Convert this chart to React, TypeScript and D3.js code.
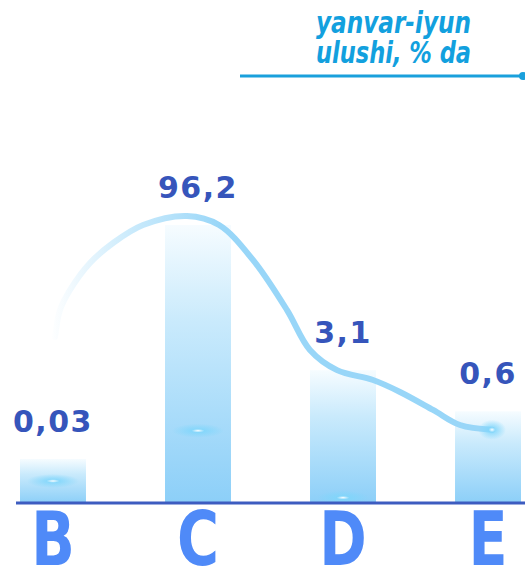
import React from "react";
import * as d3 from "d3";

const categories = ["B", "C", "D", "E"];
const values = [0.03, 96.2, 3.1, 0.6];
const valueLabels = ["0,03", "96,2", "3,1", "0,6"];
// trend curve: position in category steps from the first bar, and value (same units as bars)
const trendPos = [0.014, 0.048, 0.117, 0.255, 0.414, 0.621, 0.924, 1.145, 1.379, 1.614, 1.772, 1.959, 2.207, 2.393, 2.621, 2.807, 3.028];
const trendValues = [8.6, 17.2, 27.3, 47.9, 70, 96.2, 112, 96.2, 51, 17.2, 5.9, 3.1, 2.19, 1.39, 0.64, 0.3, 0.23];
const legendLines = ["yanvar-iyun", "ulushi, % da"];

const W = 525;
const H = 574;
const baseY = 503;

export default function App() {
  const x = d3.scaleBand<string>().domain(categories).range([20, 521]).paddingInner(0.545).paddingOuter(0);
  const y = d3.scalePow().exponent(0.2).domain([0.03, 96.2]).range([459, 225]);
  const bw = x.bandwidth();
  const step = x.step();
  const x0 = (x(categories[0]) as number) + bw / 2;

  const line = d3
    .line<number>()
    .x((_, i) => x0 + trendPos[i] * step)
    .y((d) => y(d))
    .curve(d3.curveCatmullRom.alpha(0.5));

  const glows = [
    { i: 0, dy: 0.5 },
    { i: 1, dy: 0.74 },
    { i: 2, dy: 0.96 },
  ];

  const lastI = trendPos.length - 1;

  return (
    <svg width={W} height={H} style={{ position: "absolute", left: 0, top: 0 }}>
      <defs>
        <linearGradient id="barGrad" x1="0" y1="0" x2="0" y2="1">
          <stop offset="0" stopColor="#f6fcff" />
          <stop offset="0.35" stopColor="#c9eafc" />
          <stop offset="1" stopColor="#8ccff8" />
        </linearGradient>
        <radialGradient id="glow">
          <stop offset="0" stopColor="#ffffff" stopOpacity="1" />
          <stop offset="0.25" stopColor="#7fd6fb" stopOpacity="0.8" />
          <stop offset="1" stopColor="#7fd6fb" stopOpacity="0" />
        </radialGradient>
        <linearGradient id="curveGrad" gradientUnits="userSpaceOnUse" x1="50" y1="0" x2="220" y2="0">
          <stop offset="0" stopColor="#b0e0fa" stopOpacity="0" />
          <stop offset="0.5" stopColor="#b0e0fa" stopOpacity="0.7" />
          <stop offset="1" stopColor="#98d6f8" stopOpacity="1" />
        </linearGradient>
      </defs>

      {categories.map((c, i) => {
        const bx = x(c) as number;
        const top = y(values[i]);
        return <rect key={c} x={bx} y={top} width={bw} height={baseY - top} fill="url(#barGrad)" />;
      })}

      {glows.map((g) => {
        const c = categories[g.i];
        const top = y(values[g.i]);
        const cy = top + (baseY - top) * g.dy;
        return (
          <ellipse key={c} cx={(x(c) as number) + bw / 2} cy={cy} rx={26} ry={7} fill="url(#glow)" />
        );
      })}

      <path d={line(trendValues) || ""} fill="none" stroke="url(#curveGrad)" strokeWidth={6} strokeLinecap="round" />
      <ellipse
        cx={x0 + trendPos[lastI] * step}
        cy={y(trendValues[lastI])}
        rx={14}
        ry={10}
        fill="url(#glow)"
      />

      <line x1={16} x2={525} y1={baseY} y2={baseY} stroke="#3d5cc0" strokeWidth={3} />

      {categories.map((c, i) => (
        <text
          key={"v" + c}
          x={(x(c) as number) + bw / 2}
          y={y(values[i]) - 27}
          textAnchor="middle"
          fontFamily="'DejaVu Sans', sans-serif"
          fontWeight="bold"
          fontSize={30}
          letterSpacing={1.5}
          fill="#3655bb"
        >
          {valueLabels[i]}
        </text>
      ))}

      {categories.map((c) => (
        <text
          key={"c" + c}
          transform={`translate(${(x(c) as number) + bw / 2},565) scale(0.86,1)`}
          textAnchor="middle"
          fontFamily="'DejaVu Sans Condensed', 'DejaVu Sans', sans-serif"
          fontWeight="bold"
          fontSize={74}
          fill="#4f8af8"
        >
          {c}
        </text>
      ))}

      {legendLines.map((t, i) => (
        <text
          key={t}
          x={316}
          y={33 + i * 30}
          textLength={155}
          lengthAdjust="spacingAndGlyphs"
          fontFamily="'DejaVu Sans Condensed', 'DejaVu Sans', sans-serif"
          fontWeight="bold"
          fontStyle="italic"
          fontSize={31}
          fill="#12a0de"
        >
          {t}
        </text>
      ))}
      <line x1={240} x2={522} y1={76} y2={76} stroke="#1aa0dc" strokeWidth={3} />
      <circle cx={523} cy={76} r={4} fill="#1aa0dc" />
    </svg>
  );
}
